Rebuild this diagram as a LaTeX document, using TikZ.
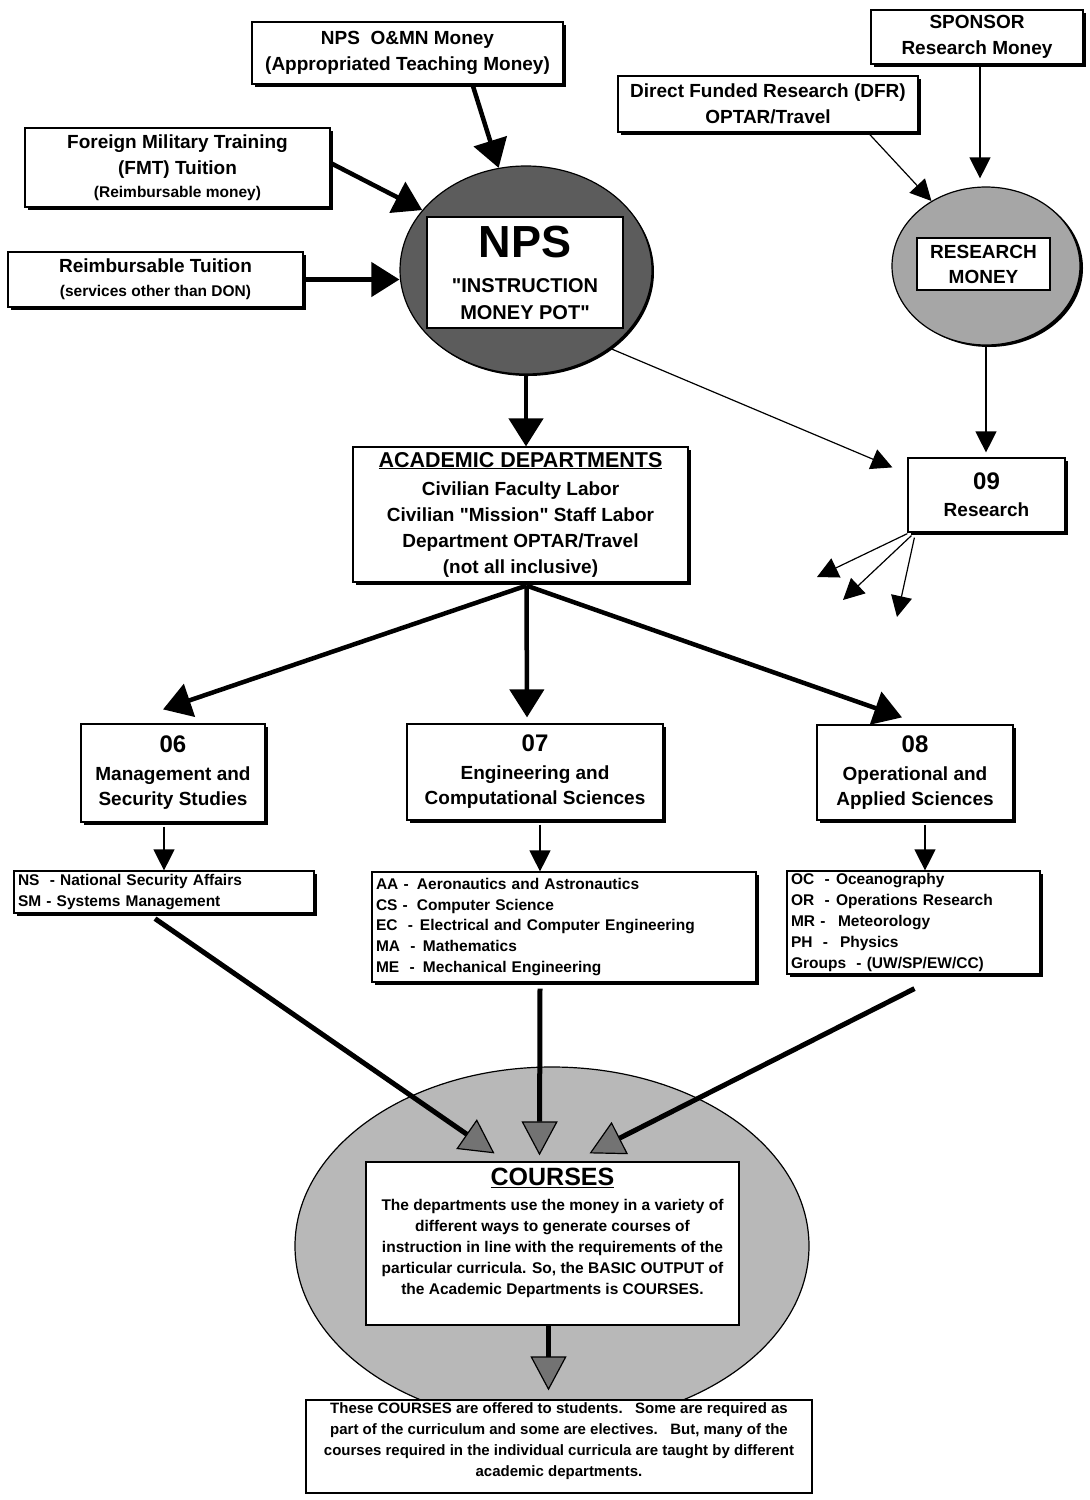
\documentclass[tikz,border=0pt]{standalone}
\usepackage{fontspec}
\setmainfont{Liberation Sans}
\usetikzlibrary{arrows.meta,shapes.geometric,shadows}
\newcommand\cdx[2]{\makebox[#1][l]{#2}}
\newcommand\qq{\textquotedbl}
\begin{document}
\begin{tikzpicture}[x=1pt,y=-1pt,
  every node/.style={font=\bfseries\fontsize{19}{26}\selectfont},
  box/.style={draw,line width=1.2pt,fill=white,inner sep=0pt,align=center,
    drop shadow={shadow xshift=3pt,shadow yshift=-3pt,fill=black,opacity=1}},
  flat/.style={draw,line width=1.2pt,fill=white,inner sep=0pt},
  listbox/.style={box,align=left,inner xsep=4pt,font=\bfseries\fontsize{15.5}{20.8}\selectfont},
  bigarrow/.style={line width=4.5pt,-{Triangle[length=28pt,width=34pt]}},
  thinarrow/.style={line width=1.2pt,-{Triangle[length=21pt,width=21pt]}},
  grayarrow/.style={line width=5pt,-{Triangle[length=34pt,width=36pt,fill=black!55,line width=1.2pt]}},
  blob/.style={ellipse,draw,line width=1.2pt,inner sep=0pt}
]
\fill[white] (0,0) rectangle (1090,1500);
\useasboundingbox (0,0) rectangle (1090,1500);

% ---- ellipses ----
\node[blob,fill=black!64,minimum width=252pt,minimum height=208pt,
  drop shadow={shadow xshift=2pt,shadow yshift=-2pt,fill=black,opacity=1}] (nps) at (526,270) {};
\node[blob,fill=black!35,minimum width=188pt,minimum height=158pt,
  drop shadow={shadow xshift=3pt,shadow yshift=-2pt,fill=black,opacity=1}] (rm) at (986,266) {};
\node[blob,fill=black!28,minimum width=514pt,minimum height=358pt] (courses) at (552,1246) {};

% ---- top boxes ----
\node[box,minimum width=311pt,minimum height=62pt] (omn) at (407.5,53)
  {NPS\ \ O\&MN Money\\(Appropriated Teaching Money)};
\node[box,minimum width=212pt,minimum height=54pt] (sponsor) at (977,37)
  {SPONSOR\\Research Money};
\node[box,minimum width=300pt,minimum height=56pt] (dfr) at (768,104)
  {Direct Funded Research (DFR)\\OPTAR/Travel};
\node[box,minimum width=305pt,minimum height=79pt] (fmt) at (177.5,167.5)
  {Foreign Military Training\\(FMT) Tuition\\[-3pt]{\fontsize{15.5}{20}\selectfont (Reimbursable money)}};
\node[box,minimum width=295pt,minimum height=55pt] (reimb) at (155.5,279.5)
  {Reimbursable Tuition\\[-2pt]{\fontsize{15.5}{20}\selectfont (services other than DON)}};

% ---- inner boxes of the pots ----
\node[flat,align=center,minimum width=196pt,minimum height=111pt,
  font=\bfseries\fontsize{20}{27}\selectfont] (npsbox) at (525,272.5)
  {{\fontsize{45}{45}\selectfont NPS}\\[8pt]\qq INSTRUCTION\\MONEY POT\qq};
\node[flat,align=center,minimum width=133pt,minimum height=52pt,
  font=\bfseries\fontsize{19}{25}\selectfont] (rmbox) at (983.5,264)
  {RESEARCH\\MONEY};

% ---- middle boxes ----
\node[box,minimum width=335pt,minimum height=135pt,
  font=\bfseries\fontsize{19}{26}\selectfont] (acad) at (520.5,514.5)
  {{\fontsize{21.5}{26}\selectfont\underline{ACADEMIC DEPARTMENTS}}\\[2pt]
   Civilian Faculty Labor\\Civilian \qq Mission\qq\ Staff Labor\\Department OPTAR/Travel\\(not all inclusive)};
\node[box,minimum width=157pt,minimum height=74pt,
  font=\bfseries\fontsize{19}{25}\selectfont] (r09) at (986.5,495)
  {{\fontsize{24}{24}\selectfont 09}\\[2pt]Research};

\node[box,minimum width=184pt,minimum height=98pt,
  font=\bfseries\fontsize{19}{25}\selectfont] (d06) at (173,773)
  {{\fontsize{24}{24}\selectfont 06}\\[3pt]Management and\\Security Studies};
\node[box,minimum width=256pt,minimum height=96pt,
  font=\bfseries\fontsize{19}{25}\selectfont] (d07) at (535,772)
  {{\fontsize{24}{24}\selectfont 07}\\[3pt]Engineering and\\Computational Sciences};
\node[box,minimum width=196pt,minimum height=95pt,
  font=\bfseries\fontsize{19}{25}\selectfont] (d08) at (915,772.5)
  {{\fontsize{24}{24}\selectfont 08}\\[3pt]Operational and\\Applied Sciences};

% ---- lists ----
\node[listbox,minimum width=300pt,minimum height=42pt,text width=292pt] (ns) at (164,892)
  {NS\ \ - National Security Affairs\\SM - Systems Management};
\node[listbox,minimum width=384pt,minimum height=110pt,text width=376pt] (aa) at (564,927)
  {\cdx{41pt}{AA -}Aeronautics and Astronautics\\
   \cdx{41pt}{CS -}Computer Science\\
   \cdx{44pt}{EC\ \ -}Electrical and Computer Engineering\\
   \cdx{47pt}{MA\ \ -}Mathematics\\
   \cdx{47pt}{ME\ \ -}Mechanical Engineering};
\node[listbox,minimum width=253pt,minimum height=103pt,text width=245pt] (oc) at (913.5,922.5)
  {\cdx{45pt}{OC\ \ -}Oceanography\\
   \cdx{45pt}{OR\ \ -}Operations Research\\
   \cdx{47pt}{MR -}Meteorology\\
   \cdx{49pt}{PH\ \ -}Physics\\
   Groups\ \ - (UW/SP/EW/CC)};

% ---- courses ----
\node[flat] (cbox) at (552.5,1243.5)
  {\parbox[c][163pt][t]{373pt}{\centering\fontsize{15.5}{21}\selectfont\vspace*{6pt}%
   {\fontsize{25}{27}\selectfont\underline{COURSES}}\\[4pt]
   The departments use the money in a variety of\\
   different ways to generate courses of\\
   instruction in line with the requirements of the\\
   particular curricula. So, the BASIC OUTPUT of\\
   the Academic Departments is COURSES.}};
\node[flat] (bottom) at (559,1446.5)
  {\parbox[c][93pt][t]{506pt}{\centering\fontsize{15}{21}\selectfont\vspace*{3pt}%
   These COURSES are offered to students.\ \ \ Some are required as\\
   part of the curriculum and some are electives.\ \ \ But, many of the\\
   courses required in the individual curricula are taught by different\\
   academic departments.}};

% ---- connectors ----
\draw[bigarrow] ([xshift=65pt]omn.south) -- (nps.105);
\draw[bigarrow] ([yshift=4.5pt]fmt.east) -- (nps.150);
\draw[bigarrow] (reimb.east) -- (reimb.east -| nps.west);
\draw[bigarrow] (nps.south) -- (nps.south |- acad.north);
\draw[thinarrow] (nps.-43) -- ([xshift=-15pt,yshift=-10pt]r09.north west);
\draw[thinarrow] ([xshift=100pt]dfr.south) -- (rm.130);
\draw[thinarrow,shorten >=8pt] ([xshift=3pt]sponsor.south) -- ([xshift=3pt]sponsor.south |- rm.north);
\draw[thinarrow,shorten >=5pt] (rm.south) -- (rm.south |- r09.north);

\coordinate (f1) at (817,577);
\coordinate (f2) at (843,600);
\coordinate (f3) at (897,617);
\draw[thinarrow] ([yshift=-1pt]r09.south west) -- (f1);
\draw[thinarrow] ([xshift=4pt,yshift=-3pt]r09.south west) -- (f2);
\draw[thinarrow] ([xshift=7pt,yshift=-5pt]r09.south west) -- (f3);

\draw[bigarrow] ([xshift=6pt,yshift=-3pt]acad.south) -- ([xshift=-10pt,yshift=14pt]d06.north);
\draw[bigarrow] ([xshift=6pt,yshift=-3pt]acad.south) -- ([xshift=-8pt,yshift=6pt]d07.north);
\draw[bigarrow] ([xshift=6pt,yshift=-3pt]acad.south) -- ([xshift=-13pt,yshift=7pt]d08.north);

\draw[thinarrow,shorten <=4pt] (ns.north |- d06.south) -- (ns.north);
\draw[thinarrow,shorten <=4pt] ([xshift=5pt]d07.south) -- ([xshift=5pt]d07.south |- aa.north);
\draw[thinarrow,shorten <=4pt] ([xshift=10pt]d08.south) -- ([xshift=10pt]d08.south |- oc.north);

\draw[grayarrow] ([xshift=-9pt,yshift=-5pt]ns.south) -- ([xshift=-58pt,yshift=8pt]cbox.north);
\draw[grayarrow] ([xshift=-24pt,yshift=-6pt]aa.south) -- ([xshift=-13pt,yshift=6pt]cbox.north);
\draw[grayarrow] ([xshift=1pt,yshift=-14pt]oc.south) -- ([xshift=37pt,yshift=8pt]cbox.north);
\draw[grayarrow,shorten >=9pt] ([xshift=-4pt]cbox.south) -- ([xshift=-4pt]cbox.south |- bottom.north);
\end{tikzpicture}
\end{document}
